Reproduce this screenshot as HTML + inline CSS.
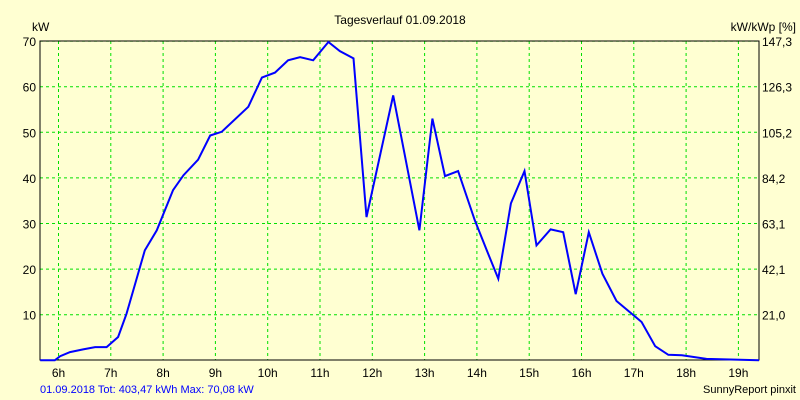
<!DOCTYPE html>
<html><head><meta charset="utf-8"><style>
body{margin:0;background:#ffffd2;}
svg{display:block;font-family:"Liberation Sans",sans-serif;font-size:12px;}
</style></head><body>
<svg id="chart" width="800" height="400" viewBox="0 0 800 400">
<rect x="0" y="0" width="800" height="400" fill="#ffffd2"/>
<text x="400" y="24" text-anchor="middle" fill="#000">Tagesverlauf 01.09.2018</text>
<text x="32" y="31" fill="#000">kW</text>
<text x="796" y="31" text-anchor="end" fill="#000">kW/kWp [%]</text>
<g id="grid"></g><g id="ticks"></g>
<rect x="40" y="41" width="719" height="319" fill="none" stroke="#000" stroke-width="1"/>
<polyline id="line" fill="none" stroke="#0000ff" stroke-width="2"/>
<text x="40" y="393" fill="#0000ff" font-size="11">01.09.2018 Tot: 403,47 kWh Max: 70,08 kW</text>
<text x="796" y="393" text-anchor="end" fill="#000" font-size="11">SunnyReport pinxit</text>
</svg>
<script>
const hours=[5.65,5.93,6.03,6.22,6.47,6.70,6.92,7.14,7.30,7.65,7.88,8.19,8.39,8.67,8.90,9.12,9.63,9.89,10.14,10.39,10.62,10.87,11.16,11.38,11.64,11.89,12.40,12.90,13.15,13.39,13.64,13.96,14.19,14.41,14.65,14.91,15.14,15.41,15.65,15.89,16.14,16.40,16.67,17.15,17.41,17.66,17.92,18.39,19.41];
const powerKW=[0,0,0.9,1.8,2.4,2.9,2.9,5.1,10.2,24.1,28.5,37.3,40.6,44.0,49.3,50.1,55.6,62.0,63.1,65.8,66.5,65.8,69.8,67.8,66.2,31.4,58.1,28.5,53.0,40.4,41.5,30.7,24.1,17.9,34.4,41.5,25.2,28.7,28.1,14.5,28.1,19.0,13.0,8.4,3.1,1.2,1.1,0.3,0];
const leftTicks=[10,20,30,40,50,60,70];
const rightTickLabels=["21,0","42,1","63,1","84,2","105,2","126,3","147,3"];
const hourTicks=[6,7,8,9,10,11,12,13,14,15,16,17,18,19];
const NS="http://www.w3.org/2000/svg";
const xS=h=>58.5+(h-6)*52.3;
const yS=v=>360.3-v*4.56;
const grid=document.getElementById('grid'),ticks=document.getElementById('ticks');
function mk(tag,attrs,parent){const e=document.createElementNS(NS,tag);for(const k in attrs)e.setAttribute(k,attrs[k]);parent.appendChild(e);return e;}
leftTicks.forEach((v,i)=>{
  const y=yS(v);
  const g=mk('line',{x1:40,x2:759,y1:y,y2:y,stroke:'#00e000','stroke-dasharray':'3,3'},grid);
  
  
  const t=mk('text',{x:36,y:y+5,'text-anchor':'end',fill:'#000'},ticks);t.textContent=v;
  
  
  const r=mk('text',{x:762,y:y+5,fill:'#000'},ticks);r.textContent=rightTickLabels[i];
  
  
});
hourTicks.forEach(h=>{
  const x=xS(h);
  const g=mk('line',{x1:x,x2:x,y1:41,y2:360,stroke:'#00e000','stroke-dasharray':'3,3'},grid);
  
  
  const t=mk('text',{x:x,y:377,'text-anchor':'middle',fill:'#000'},ticks);t.textContent=h+'h';
  
  
});
document.getElementById('line').setAttribute('points',hours.map((h,i)=>Math.min(759,Math.max(40,xS(h))).toFixed(1)+','+yS(powerKW[i]).toFixed(1)).join(' '));
</script>
</body></html>
